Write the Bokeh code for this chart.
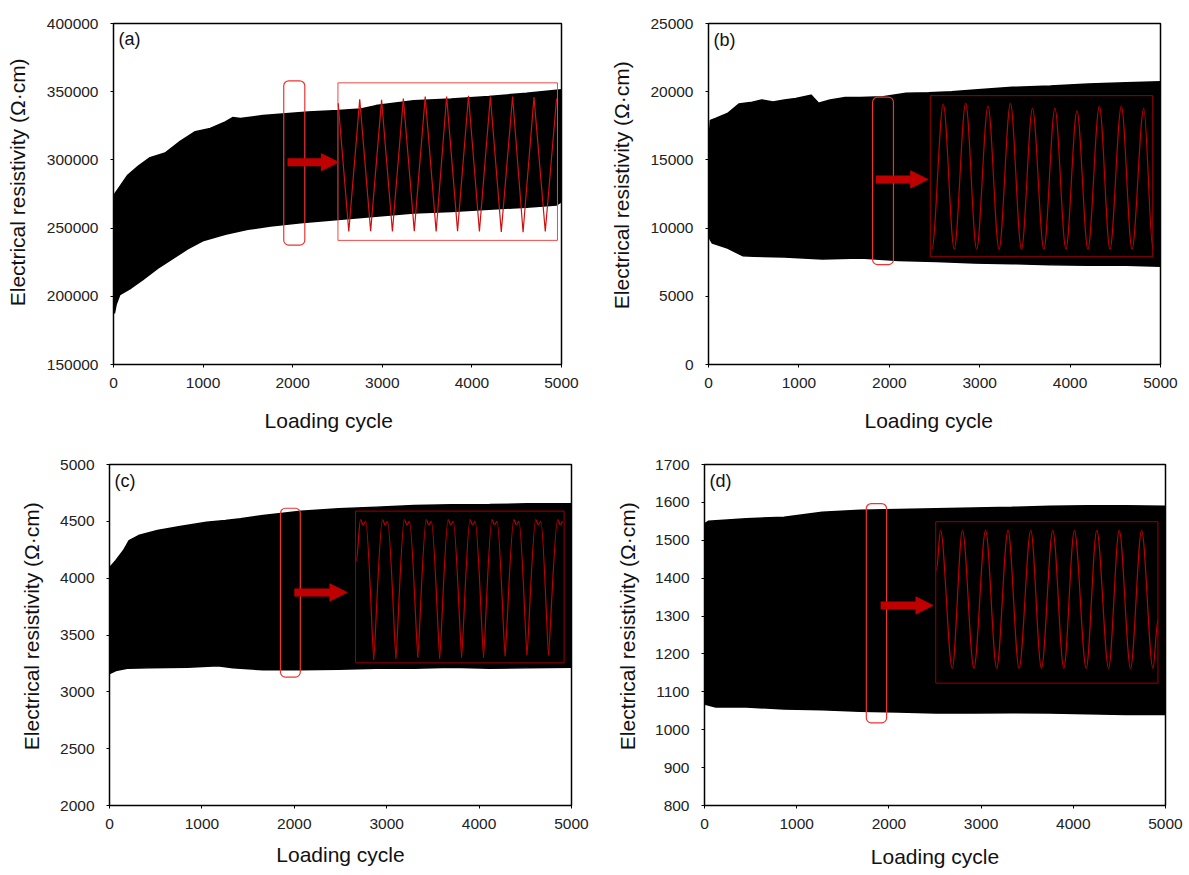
from bokeh.plotting import figure
from bokeh.layouts import row, column
from bokeh.models import FixedTicker, Label, Arrow, NormalHead, NumeralTickFormatter
from bokeh.embed import file_html
from bokeh.resources import INLINE

FONT = "Liberation Sans"
NB = "\u00a0"
X_TICKS = [0, 1000, 2000, 3000, 4000, 5000]
X_LABEL = "Loading cycle"
Y_LABEL = "Electrical resistivity (\u03a9\u00b7cm)"

# ---------------- panel (a) ----------------
A_YTICKS = [150000, 200000, 250000, 300000, 350000, 400000]
A_UP_X = [0, 15, 30, 155, 281, 408, 576, 744, 912, 1080, 1248, 1330, 1416, 1668, 1920, 2172, 2508, 2760, 2929, 3349, 3769, 4189, 4609, 5000]
A_UP_Y = [262000, 275000, 276600, 288500, 295700, 301600, 305000, 313600, 320700, 323100, 327900, 331000, 330300, 332600, 333900, 335100, 336200, 337400, 339800, 343400, 344600, 346500, 348900, 351500]
A_LO_X = [0, 10, 30, 71, 197, 324, 492, 660, 828, 996, 1248, 1500, 1752, 2088, 2508, 2929, 3349, 3769, 4189, 4609, 4945, 5000]
A_LO_Y = [190000, 187500, 194200, 201300, 206100, 212000, 220400, 227600, 234800, 240700, 245500, 249100, 251500, 253900, 256300, 258600, 261000, 262200, 263900, 265300, 267000, 269400]
A_ZOOM_X = [2508, 2626, 2748, 2870, 2992, 3113, 3235, 3357, 3479, 3601, 3718, 3840, 3962, 4084, 4206, 4328, 4454, 4571, 4693, 4819, 4945]
A_ZOOM_Y = [341500, 247500, 344500, 247800, 344000, 247500, 345000, 247800, 346500, 247500, 346500, 247800, 347000, 247500, 346500, 247200, 346500, 247000, 346000, 247500, 345000]
A_MARK = [1900, 2135, 237500, 358000]      # left, right, bottom, top
A_ARROW = [1942, 2510, 298300]             # x start, x end, y
A_INSET = [2505, 4955, 241000, 356500]

# ---------------- panel (b) ----------------
B_YTICKS = [0, 5000, 10000, 15000, 20000, 25000]
B_UP_X = [0, 21, 84, 210, 336, 462, 588, 714, 840, 966, 1134, 1218, 1345, 1513, 1681, 1933, 2185, 2437, 2689, 2941, 3361, 3782, 4202, 4622, 5000]
B_UP_Y = [16000, 17900, 18050, 18400, 19100, 19200, 19400, 19250, 19400, 19500, 19750, 19150, 19400, 19580, 19580, 19630, 19880, 19930, 20000, 20120, 20320, 20420, 20560, 20660, 20730]
B_LO_X = [0, 42, 210, 378, 504, 840, 1261, 1681, 2101, 2521, 2941, 3361, 3782, 4202, 4622, 5000]
B_LO_Y = [9400, 8900, 8540, 7980, 7930, 7880, 7730, 7800, 7630, 7560, 7440, 7390, 7320, 7270, 7270, 7200]
B_ZOOM_X = [2471, 2597, 2718, 2845, 2966, 3092, 3214, 3340, 3462, 3584, 3710, 3832, 3954, 4076, 4197, 4324, 4441, 4567, 4685, 4815, 4916]
B_ZOOM_Y = [8450, 19100, 8450, 19150, 8450, 18950, 8450, 19150, 8450, 18780, 8450, 18780, 8450, 18590, 8450, 18950, 8450, 18950, 8450, 18780, 8500]
B_MARK = [1815, 2046, 7320, 19600]
B_ARROW = [1850, 2425, 13570]
B_INSET = [2453, 4914, 7900, 19710]

# ---------------- panel (c) ----------------
C_YTICKS = [2000, 2500, 3000, 3500, 4000, 4500, 5000]
C_UP_X = [0, 69, 151, 212, 315, 519, 764, 1050, 1254, 1418, 1663, 2071, 2480, 2888, 3297, 3705, 4114, 4522, 5000]
C_UP_Y = [4090, 4155, 4243, 4331, 4375, 4419, 4455, 4493, 4507, 4522, 4551, 4589, 4610, 4625, 4639, 4645, 4648, 4654, 4654]
C_LO_X = [0, 69, 192, 437, 846, 1172, 1336, 1663, 2071, 2480, 2888, 3297, 3705, 4114, 4522, 5000]
C_LO_Y = [3160, 3188, 3208, 3211, 3217, 3229, 3211, 3194, 3194, 3199, 3208, 3208, 3217, 3208, 3211, 3217]
C_ZOOM_X = [2670, 2717, 2745, 2773, 2860, 2954, 2982, 3010, 3100, 3191, 3219, 3247, 3337, 3428, 3456, 3484,
            3574, 3665, 3693, 3721, 3811, 3902, 3930, 3958, 4048, 4139, 4167, 4195, 4281, 4376, 4404, 4432,
            4518, 4613, 4641, 4669, 4751, 4850, 4878, 4906]
C_ZOOM_Y = [4150, 4515, 4470, 4500, 3280, 4515, 4470, 4500, 3290, 4515, 4470, 4500, 3300, 4515, 4470, 4500,
            3290, 4515, 4470, 4500, 3300, 4515, 4470, 4500, 3300, 4515, 4470, 4500, 3310, 4515, 4470, 4500,
            3320, 4515, 4470, 4500, 3320, 4515, 4470, 4500]
C_MARK = [1850, 2065, 3130, 4615]
C_ARROW = [2000, 2570, 3875]
C_INSET = [2663, 4920, 3255, 4590]

# ---------------- panel (d) ----------------
D_YTICKS = [800, 900, 1000, 1100, 1200, 1300, 1400, 1500, 1600, 1700]
D_UP_X = [0, 41, 453, 864, 1276, 1687, 2099, 2510, 2922, 3333, 3745, 4156, 4568, 5000]
D_UP_Y = [1543, 1550, 1557, 1561, 1574, 1579, 1581, 1583, 1585, 1587, 1590, 1591, 1591, 1590]
D_LO_X = [0, 123, 453, 864, 1276, 1687, 2099, 2510, 2922, 3333, 3745, 4156, 4568, 5000]
D_LO_Y = [1068, 1060, 1060, 1055, 1053, 1049, 1047, 1044, 1044, 1045, 1044, 1042, 1040, 1040]
D_ZOOM_X = [2515, 2560, 2687, 2798, 2922, 3049, 3169, 3292, 3412, 3539, 3654, 3778, 3897, 4012, 4140, 4255, 4383, 4498, 4621, 4741, 4864, 4918]
D_ZOOM_Y = [1420, 1526, 1162, 1526, 1162, 1526, 1162, 1526, 1162, 1526, 1162, 1526, 1162, 1526, 1162, 1526, 1162, 1526, 1162, 1526, 1162, 1290]
D_MARK = [1755, 1975, 1018, 1597]
D_ARROW = [1910, 2478, 1328]
D_INSET = [2508, 4918, 1123, 1549]

MARK_RED = "#ee3333"
ARROW_RED = "#c00000"


def make_panel(tag, w, h, bl, br, bt, bb, yticks, up_x, up_y, lo_x, lo_y,
               zx, zy, mark, arrow, inset, inset_color, line_color, style,
               ystand, xstand, ylab, xlab, tag_dy):
    p = figure(width=w, height=h, x_range=(0, 5000), y_range=(yticks[0], yticks[-1]),
               output_backend="svg", toolbar_location=None,
               min_border_left=bl, min_border_right=br, min_border_top=bt, min_border_bottom=bb)
    p.xgrid.visible = False
    p.ygrid.visible = False
    p.outline_line_color = "black"
    p.outline_line_width = 1.5
    p.outline_line_alpha = 1.0
    p.background_fill_color = "white"
    p.border_fill_color = "white"

    p.xaxis.ticker = FixedTicker(ticks=X_TICKS)
    p.yaxis.ticker = FixedTicker(ticks=yticks)
    p.yaxis.formatter = NumeralTickFormatter(format="0")
    p.xaxis.formatter = NumeralTickFormatter(format="0")
    p.xaxis.axis_label = xlab
    p.yaxis.axis_label = ylab
    for ax in (p.xaxis[0], p.yaxis[0]):
        ax.axis_line_color = None
        ax.major_tick_out = 3
        ax.major_tick_in = 0
        ax.major_tick_line_color = "black"
        ax.minor_tick_line_color = None
        ax.major_label_text_font = FONT
        ax.major_label_text_font_size = "15.5px"
        ax.major_label_text_color = "#222222"
        ax.axis_label_text_font = FONT
        ax.axis_label_text_font_size = "21px"
        ax.axis_label_text_font_style = "normal"
        ax.axis_label_text_color = "#111111"
    p.yaxis.major_label_standoff = 12
    p.xaxis.major_label_standoff = 10
    p.yaxis.axis_label_standoff = ystand
    p.xaxis.axis_label_standoff = xstand

    # black band of the dense loading cycles
    px = list(up_x) + list(reversed(lo_x))
    py = list(up_y) + list(reversed(lo_y))
    p.patch(px, py, fill_color="black", line_color="black", line_width=1.5)

    # rounded marker box
    p.quad(left=[mark[0]], right=[mark[1]], bottom=[mark[2]], top=[mark[3]],
           fill_color=None, line_color=MARK_RED, line_width=1.2, border_radius=5)

    # arrow
    p.add_layout(Arrow(end=NormalHead(size=17, fill_color=ARROW_RED, line_color=ARROW_RED, line_width=1),
                       x_start=arrow[0], y_start=arrow[2], x_end=arrow[1], y_end=arrow[2],
                       line_color=ARROW_RED, line_width=8))

    # inset frame
    p.quad(left=[inset[0]], right=[inset[1]], bottom=[inset[2]], top=[inset[3]],
           fill_color=None, line_color=inset_color, line_width=1)

    # inset waveform
    if style == "linear":
        p.line(zx, zy, line_color=line_color, line_width=1.2)
    else:
        ymid = (min(zy) + max(zy)) / 2.0
        x0s, y0s, x1s, y1s, c0x, c0y, c1x, c1y = [], [], [], [], [], [], [], []
        for i in range(len(zx) - 1):
            xa, ya, xb, yb = zx[i], zy[i], zx[i + 1], zy[i + 1]
            dx = xb - xa
            ka = 1.0 / 3.0
            kb = 1.0 / 3.0
            if style == "sharp":
                if ya < ymid:
                    ka = 0.12
                if yb < ymid:
                    kb = 0.12
            x0s.append(xa); y0s.append(ya); x1s.append(xb); y1s.append(yb)
            c0x.append(xa + ka * dx); c0y.append(ya)
            c1x.append(xb - kb * dx); c1y.append(yb)
        p.bezier(x0=x0s, y0=y0s, x1=x1s, y1=y1s, cx0=c0x, cy0=c0y, cx1=c1x, cy1=c1y,
                 line_color=line_color, line_width=1.2)

    p.add_layout(Label(x=0, y=yticks[-1], x_units="data", y_units="data", x_offset=5, y_offset=tag_dy,
                       text=tag, text_font=FONT, text_font_size="18px", text_color="#111111",
                       text_baseline="top", text_align="left"))
    return p


pa = make_panel("(a)", 596, 440, 113, 35, 17, 75, A_YTICKS, A_UP_X, A_UP_Y, A_LO_X, A_LO_Y,
                A_ZOOM_X, A_ZOOM_Y, A_MARK, A_ARROW, A_INSET, "#ee4a4a", "#d01010", "linear", 15, 18,
                NB * 4 + Y_LABEL, X_LABEL + NB * 3, -5)
pb = make_panel("(b)", 593, 440, 112, 29, 23, 76, B_YTICKS, B_UP_X, B_UP_Y, B_LO_X, B_LO_Y,
                B_ZOOM_X, B_ZOOM_Y, B_MARK, B_ARROW, B_INSET, "#9a0000", "#c00000", "smooth", 14, 18,
                NB * 3 + Y_LABEL, X_LABEL + NB * 2, -6)
pc = make_panel("(c)", 596, 435, 109, 25, 24, 70, C_YTICKS, C_UP_X, C_UP_Y, C_LO_X, C_LO_Y,
                C_ZOOM_X, C_ZOOM_Y, C_MARK, C_ARROW, C_INSET, "#9a0000", "#c00000", "sharp", 14, 11,
                NB * 3 + Y_LABEL, X_LABEL, -6)
pd = make_panel("(d)", 593, 435, 108, 24, 24, 70, D_YTICKS, D_UP_X, D_UP_Y, D_LO_X, D_LO_Y,
                D_ZOOM_X, D_ZOOM_Y, D_MARK, D_ARROW, D_INSET, "#9a0000", "#c00000", "smooth", 13, 13,
                NB * 3 + Y_LABEL, X_LABEL, -6)

layout = column(row(pa, pb, spacing=0), row(pc, pd, spacing=0), spacing=0)
open("out.html", "w").write(file_html(layout, INLINE))
